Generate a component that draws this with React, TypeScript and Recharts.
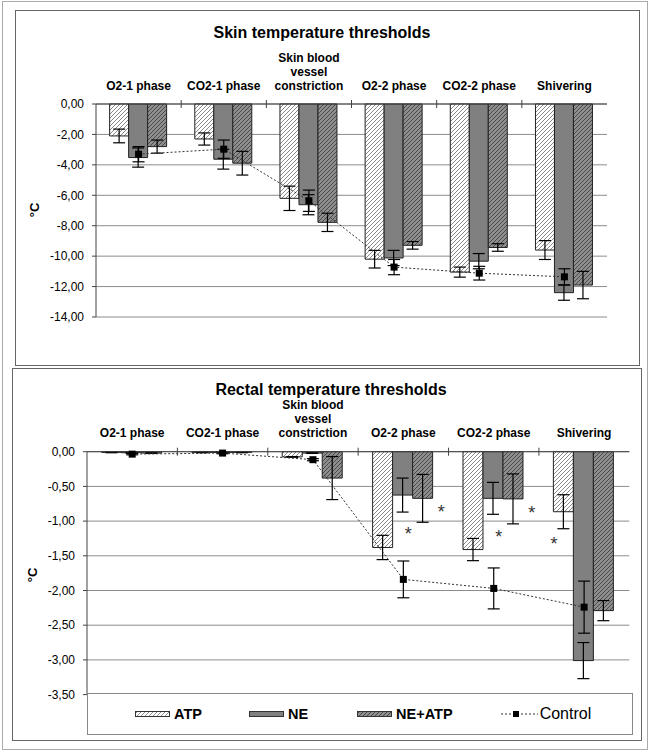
import {
      ComposedChart,
      Bar,
      Line,
      XAxis,
      YAxis,
      CartesianGrid,
      ErrorBar,
      ReferenceDot,
} from "recharts";

const FONT = "'Liberation Sans', Arial, sans-serif";

const categories = [
      "O2-1 phase",
      "CO2-1 phase",
      "Skin blood vessel constriction",
      "O2-2 phase",
      "CO2-2 phase",
      "Shivering",
];
const categoryLabels = [
      "O2-1 phase",
      "CO2-1 phase",
      "Skin blood\nvessel\nconstriction",
      "O2-2 phase",
      "CO2-2 phase",
      "Shivering",
];

// skin temperature thresholds (°C)
const skinATP = [-2.1, -2.3, -6.2, -10.2, -11.05, -9.6];
const skinATPErr = [0.45, 0.4, 0.8, 0.58, 0.33, 0.62];
const skinNE = [-3.52, -3.63, -6.62, -10.12, -10.33, -12.4];
const skinNEErr = [0.63, 0.65, 0.66, 0.5, 0.5, 0.5];
const skinNEATP = [-2.8, -3.89, -7.78, -9.29, -9.43, -11.9];
const skinNEATPErr = [0.43, 0.78, 0.6, 0.25, 0.25, 0.9];
const skinControl = [-3.3, -2.97, -6.36, -10.72, -11.12, -11.36];
const skinControlErr = [0.5, 0.6, 0.7, 0.5, 0.45, 0.53];
const skinTicks = [0, -2, -4, -6, -8, -10, -12, -14];

// rectal temperature thresholds (°C)
const rectATP = [-0.01, -0.01, -0.075, -1.38, -1.41, -0.865];
const rectATPErr = [0.005, 0.005, 0.005, 0.175, 0.16, 0.245];
const rectNE = [-0.015, -0.01, -0.02, -0.625, -0.672, -3.01];
const rectNEErr = [0.005, 0.005, 0.005, 0.245, 0.23, 0.26];
const rectNEATP = [-0.02, -0.01, -0.38, -0.672, -0.68, -2.29];
const rectNEATPErr = [0.005, 0.005, 0.31, 0.345, 0.36, 0.145];
const rectControl = [-0.035, -0.02, -0.115, -1.84, -1.97, -2.24];
const rectControlErr = [0.01, 0.01, 0.015, 0.265, 0.295, 0.375];
const rectTicks = [0, -0.5, -1, -1.5, -2, -2.5, -3, -3.5];

// significance stars (placed at these values)
const rectStarsATP = [null, null, null, null, null, -1.27];
const rectStarsNE = [null, null, null, -1.13, -1.17, null];
const rectStarsNEATP = [null, null, null, -0.815, -0.83, null];

const buildRows = (atp, atpErr, ne, neErr, neAtp, neAtpErr, ctrl, ctrlErr) =>
      categories.map((name, i) => ({
            name,
            ATP: atp[i],
            atpErr: atpErr[i],
            NE: ne[i],
            neErr: neErr[i],
            "NE+ATP": neAtp[i],
            neAtpErr: neAtpErr[i],
            Control: ctrl[i],
            ctrlErr: ctrlErr[i],
      }));

const skinRows = buildRows(skinATP, skinATPErr, skinNE, skinNEErr, skinNEATP, skinNEATPErr, skinControl, skinControlErr);
const rectRows = buildRows(rectATP, rectATPErr, rectNE, rectNEErr, rectNEATP, rectNEATPErr, rectControl, rectControlErr);

const fmt = (v: number) => v.toFixed(2).replace(".", ",");

const CategoryTick = (props: any) => {
      const { x, y, payload, band } = props;
      const idx = categories.indexOf(payload.value);
      const lines = categoryLabels[idx].split("\n");
      return (
            <g>
                  {lines.map((l, k) => (
                        <text
                              key={k}
                              x={x}
                              y={y - 14.5 - (lines.length - 1 - k) * 14}
                              textAnchor="middle"
                              fontSize={12}
                              fontWeight="bold"
                              fontFamily={FONT}
                              fill="#000"
                        >
                              {l}
                        </text>
                  ))}
                  {idx < categories.length - 1 && (
                        <line x1={x + band / 2} x2={x + band / 2} y1={y - 4} y2={y + 4} stroke="#444" />
                  )}
            </g>
      );
};

const SquareDot = (p: any) => (
      <rect key={`d${p.index}`} x={p.cx - 3.5} y={p.cy - 3.5} width={7} height={7} fill="#000" />
);

const Star = (dx: number) => (p: any) => (
      <text x={p.cx + dx} y={p.cy + 10} textAnchor="middle" fontSize={18} fontFamily={FONT} fill="#333">
            *
      </text>
);

const Panel = ({ rows, ticks, height, margin, band, stars }: any) => (
      <ComposedChart
            width={651}
            height={height}
            data={rows}
            margin={margin}
            barGap={0}
            barCategoryGap="16%"
      >
            <CartesianGrid vertical={false} stroke="#8c8c8c" />
            <XAxis
                  dataKey="name"
                  orientation="top"
                  height={50}
                  interval={0}
                  tickSize={0}
                  tickMargin={0}
                  tickLine={false}
                  axisLine={{ stroke: "#444" }}
                  tick={(p: any) => <CategoryTick {...p} band={band} />}
            />
            <YAxis
                  width={60}
                  domain={[ticks[ticks.length - 1], 0]}
                  ticks={ticks}
                  interval={0}
                  tickFormatter={fmt}
                  tickSize={4}
                  tickMargin={8}
                  axisLine={{ stroke: "#444" }}
                  tickLine={{ stroke: "#444" }}
                  tick={{ fontSize: 12, fill: "#000", fontFamily: FONT }}
            />
            <YAxis
                  yAxisId="frame"
                  orientation="right"
                  width={0}
                  domain={[0, 1]}
                  tick={false}
                  tickLine={false}
                  axisLine={{ stroke: "#8c8c8c" }}
            />
            <Bar dataKey="ATP" fill="url(#hatchATP)" stroke="#222" isAnimationActive={false}>
                  <ErrorBar dataKey="atpErr" width={6} stroke="#000" strokeWidth={1.2} direction="y" />
            </Bar>
            <Bar dataKey="NE" fill="#808080" stroke="#222" isAnimationActive={false}>
                  <ErrorBar dataKey="neErr" width={6} stroke="#000" strokeWidth={1.2} direction="y" />
            </Bar>
            <Bar dataKey="NE+ATP" fill="url(#hatchNEATP)" stroke="#222" isAnimationActive={false}>
                  <ErrorBar dataKey="neAtpErr" width={6} stroke="#000" strokeWidth={1.2} direction="y" />
            </Bar>
            <Line
                  dataKey="Control"
                  stroke="#333"
                  strokeWidth={1}
                  strokeDasharray="2 2"
                  dot={SquareDot}
                  activeDot={false}
                  isAnimationActive={false}
            >
                  <ErrorBar dataKey="ctrlErr" width={6} stroke="#000" strokeWidth={1.2} direction="y" />
            </Line>
            {stars &&
                  stars.map((s: any) =>
                        s.values.map((v: number | null, i: number) =>
                              v === null ? null : (
                                    <ReferenceDot
                                          key={`${s.dx}-${i}`}
                                          x={categories[i]}
                                          y={v}
                                          r={0}
                                          shape={Star(s.dx)}
                                          ifOverflow="visible"
                                    />
                              )
                        )
                  )}
      </ComposedChart>
);

const frame = (l: number, t: number, r: number, b: number, color: string) => ({
      position: "absolute" as const,
      left: l,
      top: t,
      width: r - l,
      height: b - t,
      border: `1px solid ${color}`,
      boxSizing: "border-box" as const,
});

const title = (cx: number, cy: number) => ({
      position: "absolute" as const,
      left: cx - 200,
      top: cy - 10,
      width: 400,
      lineHeight: "20px",
      textAlign: "center" as const,
      fontSize: 16,
      fontWeight: "bold" as const,
      fontFamily: FONT,
});

const unit = (cx: number, cy: number) => ({
      position: "absolute" as const,
      left: cx - 12,
      top: cy - 10,
      width: 24,
      lineHeight: "20px",
      textAlign: "center" as const,
      fontSize: 13,
      fontWeight: "bold" as const,
      fontFamily: FONT,
      transform: "rotate(-90deg)",
});

const Swatch = ({ fill }: { fill: string }) => (
      <svg width={36} height={8} style={{ display: "block" }}>
            <rect x={0.5} y={1.5} width={34} height={5} fill={fill} stroke="#333" />
      </svg>
);

const legendText = { fontFamily: FONT, fontSize: 14.5, fontWeight: "bold" as const, marginLeft: 3 };

const App = () => {
      return (
            <div style={{ position: "absolute", left: 0, top: 0, width: 651, height: 751, background: "#fff" }}>
                  <svg width={0} height={0} style={{ position: "absolute" }}>
                        <defs>
                              <pattern id="hatchATP" patternUnits="userSpaceOnUse" width={4} height={4}>
                                    <rect width={4} height={4} fill="#fff" />
                                    <path d="M-1,1 l2,-2 M0,4 l4,-4 M3,5 l2,-2" stroke="#8a8a8a" strokeWidth={1} />
                              </pattern>
                              <pattern id="hatchNEATP" patternUnits="userSpaceOnUse" width={4} height={4}>
                                    <rect width={4} height={4} fill="#8e8e8e" />
                                    <path d="M-1,1 l2,-2 M0,4 l4,-4 M3,5 l2,-2" stroke="#4a4a4a" strokeWidth={1} />
                              </pattern>
                        </defs>
                  </svg>
                  <div style={frame(2, 1, 648, 750, "#aaa")} />
                  <div style={frame(15, 10, 640, 366, "#666")} />
                  <div style={frame(12, 368, 642, 741, "#666")} />

                  <div style={{ position: "absolute", left: 0, top: 0 }}>
                        <Panel
                              rows={skinRows}
                              ticks={skinTicks}
                              height={370}
                              margin={{ top: 54, right: 44, bottom: 53, left: 36 }}
                              band={(607 - 96) / 6}
                        />
                  </div>
                  <div style={title(322, 33)}>Skin temperature thresholds</div>
                  <div style={unit(35, 210)}>°C</div>

                  <div style={{ position: "absolute", left: 0, top: 368 }}>
                        <Panel
                              rows={rectRows}
                              ticks={rectTicks}
                              height={383}
                              margin={{ top: 33.7, right: 21.7, bottom: 56.4, left: 27 }}
                              band={(629.3 - 87) / 6}
                              stars={[
                                    { values: rectStarsATP, dx: -30 },
                                    { values: rectStarsNE, dx: 5 },
                                    { values: rectStarsNEATP, dx: 38 },
                              ]}
                        />
                  </div>
                  <div style={title(331, 390)}>Rectal temperature thresholds</div>
                  <div style={unit(33, 575)}>°C</div>

                  <div
                        style={{
                              ...frame(87, 693, 633, 735, "#888"),
                              display: "flex",
                              alignItems: "center",
                              paddingLeft: 47,
                              background: "#fff",
                        }}
                  >
                        <div style={{ display: "flex", alignItems: "center", marginRight: 47 }}>
                              <Swatch fill="url(#hatchATP)" />
                              <span style={legendText}>ATP</span>
                        </div>
                        <div style={{ display: "flex", alignItems: "center", marginRight: 49 }}>
                              <Swatch fill="#808080" />
                              <span style={legendText}>NE</span>
                        </div>
                        <div style={{ display: "flex", alignItems: "center", marginRight: 48 }}>
                              <Swatch fill="url(#hatchNEATP)" />
                              <span style={legendText}>NE+ATP</span>
                        </div>
                        <div style={{ display: "flex", alignItems: "center" }}>
                              <svg width={38} height={10} style={{ display: "block" }}>
                                    <line x1={0} x2={37} y1={5} y2={5} stroke="#333" strokeDasharray="2 2" />
                                    <rect x={12} y={2} width={6} height={6} fill="#000" />
                              </svg>
                              <span style={{ ...legendText, fontWeight: "normal", fontSize: 16, marginLeft: 1 }}>Control</span>
                        </div>
                  </div>
            </div>
      );
};

export default App;
